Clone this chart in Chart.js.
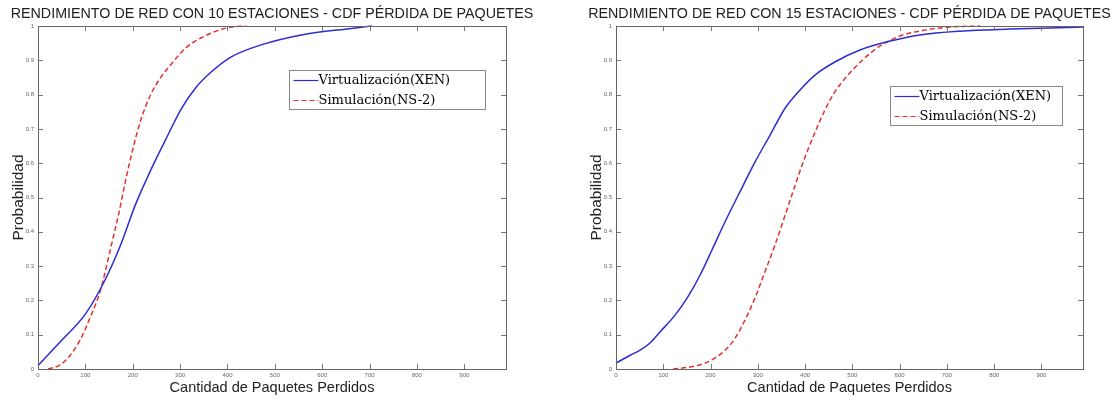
<!DOCTYPE html>
<html>
<head>
<meta charset="utf-8">
<script src="https://cdn.jsdelivr.net/npm/chart.js@4.4.1/dist/chart.umd.min.js"></script>
<style>
    body { margin: 0; background: #ffffff; }
    .chartBox { position: absolute; top: 0; height: 401px; }
    #leftBox { left: 0; width: 543px; }
    #rightBox { left: 578px; width: 542px; }
</style>
</head>
<body>
<div class="chartBox" id="leftBox"><canvas id="chart10"></canvas></div>
<div class="chartBox" id="rightBox"><canvas id="chart15"></canvas></div>
<script>
// Axis ticks shared by both charts
const xTickValues = [0, 100, 200, 300, 400, 500, 600, 700, 800, 900];
const yTickValues = [0, 0.1, 0.2, 0.3, 0.4, 0.5, 0.6, 0.7, 0.8, 0.9, 1];

// Series names
const seriesNames = ['Virtualización(XEN)', 'Simulación(NS-2)'];

// 10 stations - XEN (packets lost / cumulative probability)
const xen10X = [0, 51, 100, 138, 174, 206, 238, 270, 301, 333, 365, 408, 471, 556, 662, 705];
const xen10Y = [0.01, 0.085, 0.16, 0.25, 0.36, 0.48, 0.58, 0.67, 0.755, 0.82, 0.865, 0.91, 0.945, 0.974, 0.993, 1.0];

// 10 stations - NS-2
const ns10X = [21, 47, 68, 89, 110, 132, 153, 170, 185, 200, 217, 238, 259, 285, 312, 344, 376, 408, 439];
const ns10Y = [0, 0.012, 0.04, 0.085, 0.15, 0.23, 0.35, 0.45, 0.55, 0.64, 0.726, 0.8, 0.85, 0.895, 0.936, 0.965, 0.985, 0.997, 1.0];

// 15 stations - XEN
const xen15X = [0, 30, 51, 72, 93, 125, 152, 178, 203, 231, 262, 294, 326, 358, 389, 421, 463, 516, 580, 643, 728, 834, 988];
const xen15Y = [0.017, 0.04, 0.055, 0.076, 0.108, 0.157, 0.21, 0.274, 0.347, 0.43, 0.516, 0.603, 0.682, 0.761, 0.813, 0.857, 0.895, 0.93, 0.956, 0.974, 0.985, 0.991, 0.997];

// 15 stations - NS-2
const ns15X = [121, 157, 188, 209, 231, 252, 273, 294, 315, 336, 358, 379, 400, 421, 442, 463, 491, 521, 559, 601, 654, 707, 770];
const ns15Y = [0, 0.006, 0.017, 0.032, 0.055, 0.09, 0.143, 0.207, 0.283, 0.36, 0.449, 0.536, 0.618, 0.69, 0.755, 0.808, 0.857, 0.9, 0.942, 0.971, 0.988, 0.997, 1.0];

//----TURNS TWO ARRAYS INTO {x, y} POINTS----
function toPoints(xs, ys) {
    return xs.map((x, i) => ({ x: x, y: ys[i] }));
}

//----DRAWS MATLAB STYLE TITLE, BOX, INWARD TICKS & LEGEND----
const matlabFrame = {
    id: 'matlabFrame',
    afterDatasetsDraw(chart, args, opts) {
        const { ctx, chartArea: a, scales } = chart;
        ctx.save();

        // Title centred over the plot box
        ctx.fillStyle = '#222222';
        ctx.font = '14.3px "Liberation Sans"';
        ctx.textAlign = 'center';
        ctx.textBaseline = 'middle';
        ctx.fillText(opts.title, (a.left + a.right) / 2, 14);

        // Inward tick marks on all four sides
        ctx.strokeStyle = '#777777';
        ctx.lineWidth = 1;
        ctx.beginPath();
        xTickValues.forEach(v => {
            const px = Math.round(scales.x.getPixelForValue(v)) + 0.5;
            ctx.moveTo(px, a.bottom); ctx.lineTo(px, a.bottom - 5);
            ctx.moveTo(px, a.top); ctx.lineTo(px, a.top + 5);
        });
        yTickValues.forEach(v => {
            const py = Math.round(scales.y.getPixelForValue(v)) + 0.5;
            ctx.moveTo(a.left, py); ctx.lineTo(a.left + 5, py);
            ctx.moveTo(a.right, py); ctx.lineTo(a.right - 5, py);
        });
        ctx.stroke();

        // Box
        ctx.strokeStyle = '#666666';
        ctx.strokeRect(Math.round(a.left) + 0.5, Math.round(a.top) + 0.5,
            Math.round(a.right - a.left), Math.round(a.bottom - a.top));

        // Legend box inside the plot
        const lx = Math.round(a.left + (a.right - a.left) * opts.left) + 0.5;
        const ly = Math.round(a.top + (a.bottom - a.top) * opts.top) + 0.5;
        ctx.fillStyle = '#ffffff';
        ctx.fillRect(lx, ly, opts.width, 39);
        ctx.strokeStyle = '#888888';
        ctx.strokeRect(lx, ly, opts.width, 39);

        ctx.font = '13px "DejaVu Serif"';
        ctx.textAlign = 'left';
        chart.data.datasets.forEach((ds, i) => {
            const rowY = ly + 10 + i * 20;
            ctx.strokeStyle = ds.borderColor;
            ctx.lineWidth = 1.2;
            ctx.setLineDash(ds.borderDash || []);
            ctx.beginPath();
            ctx.moveTo(lx + 4, rowY);
            ctx.lineTo(lx + 29, rowY);
            ctx.stroke();
            ctx.setLineDash([]);
            ctx.fillStyle = '#000000';
            ctx.fillText(ds.label, lx + 29, rowY);
        });
        ctx.restore();
    }
};

//----BUILDS ONE CDF CHART----
function buildCdfChart(canvasId, titleText, xenPoints, nsPoints, legendPos) {
    const context = document.getElementById(canvasId).getContext('2d');
    return new Chart(context, {
        type: 'line',
        data: {
            datasets: [{
                label: seriesNames[0],
                data: xenPoints,
                borderColor: '#2c2cd4',
                borderWidth: 1.5,
                pointRadius: 0,
                cubicInterpolationMode: 'monotone',
                clip: false
            }, {
                label: seriesNames[1],
                data: nsPoints,
                borderColor: '#e3302c',
                borderWidth: 1.5,
                borderDash: [5, 3],
                pointRadius: 0,
                cubicInterpolationMode: 'monotone',
                clip: false
            }]
        },
        options: {
            responsive: true,
            maintainAspectRatio: false,
            animation: false,
            layout: { padding: { top: 26, right: 37 } },
            scales: {
                x: {
                    type: 'linear',
                    min: 0,
                    max: 988,
                    afterBuildTicks: scale => { scale.ticks = xTickValues.map(v => ({ value: v })); },
                    afterFit: scale => { scale.height = 32; },
                    grid: { display: false, drawTicks: false },
                    border: { display: false },
                    ticks: {
                        padding: 3,
                        maxRotation: 0,
                        color: '#666666',
                        font: { family: 'Liberation Sans', size: 6 },
                        callback: value => String(value)
                    },
                    title: {
                        display: true,
                        text: 'Cantidad de Paquetes Perdidos',
                        color: '#222222',
                        font: { family: 'Liberation Sans', size: 14.5 },
                        padding: { top: 0, bottom: 4 }
                    }
                },
                y: {
                    min: 0,
                    max: 1,
                    afterBuildTicks: scale => { scale.ticks = yTickValues.map(v => ({ value: v })); },
                    afterFit: scale => { scale.width = 38; },
                    grid: { display: false, drawTicks: false },
                    border: { display: false },
                    ticks: {
                        padding: 4,
                        color: '#666666',
                        font: { family: 'Liberation Sans', size: 6 },
                        callback: value => String(value)
                    },
                    title: {
                        display: true,
                        text: 'Probabilidad',
                        color: '#222222',
                        font: { family: 'Liberation Sans', size: 15.5 },
                        padding: { top: 9, bottom: 0 }
                    }
                }
            },
            plugins: {
                legend: { display: false },
                tooltip: { enabled: false },
                title: { display: false },
                matlabFrame: Object.assign({ title: titleText }, legendPos)
            }
        },
        plugins: [matlabFrame]
    });
}

buildCdfChart('chart10', 'RENDIMIENTO DE RED CON 10 ESTACIONES - CDF PÉRDIDA DE PAQUETES',
    toPoints(xen10X, xen10Y), toPoints(ns10X, ns10Y), { left: 0.537, top: 0.128, width: 196 });
buildCdfChart('chart15', 'RENDIMIENTO DE RED CON 15 ESTACIONES - CDF PÉRDIDA DE PAQUETES',
    toPoints(xen15X, xen15Y), toPoints(ns15X, ns15Y), { left: 0.587, top: 0.175, width: 172 });
</script>
</body>
</html>
